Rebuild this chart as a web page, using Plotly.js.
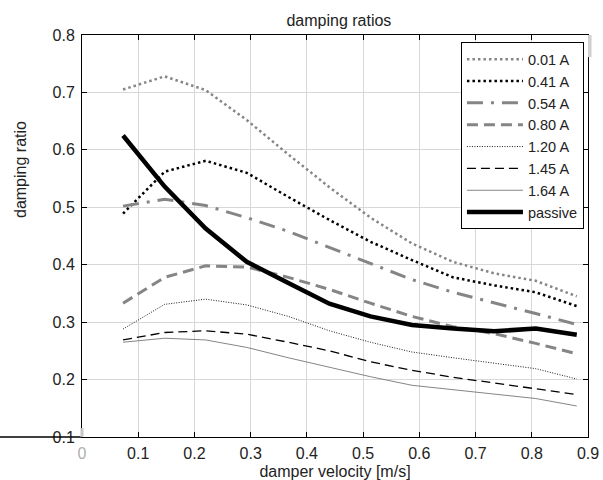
<!DOCTYPE html>
<html>
<head>
<meta charset="utf-8">
<script src="https://cdn.plot.ly/plotly-3.0.1.min.js"></script>
<style>html,body{margin:0;padding:0;background:#fff;}#chart{width:603px;height:480px;}</style>
</head>
<body>
<div id="chart"></div>
<script>
// damper velocity [m/s]
const velocity = [0.073, 0.147, 0.22, 0.293, 0.367, 0.44, 0.513, 0.587, 0.66, 0.733, 0.807, 0.88];
const seriesNames = ["0.01 A", "0.41 A", "0.54 A", "0.80 A", "1.20 A", "1.45 A", "1.64 A", "passive"];
const ratio001 = [0.705, 0.728, 0.704, 0.652, 0.592, 0.535, 0.482, 0.437, 0.405, 0.385, 0.372, 0.345];
const ratio041 = [0.489, 0.562, 0.581, 0.560, 0.518, 0.478, 0.440, 0.408, 0.378, 0.364, 0.352, 0.328];
const ratio054 = [0.502, 0.514, 0.503, 0.482, 0.458, 0.430, 0.402, 0.374, 0.352, 0.334, 0.315, 0.296];
const ratio080 = [0.333, 0.378, 0.398, 0.396, 0.378, 0.357, 0.333, 0.310, 0.292, 0.280, 0.263, 0.245];
const ratio120 = [0.288, 0.331, 0.340, 0.330, 0.310, 0.285, 0.265, 0.248, 0.238, 0.228, 0.219, 0.201];
const ratio145 = [0.269, 0.282, 0.285, 0.279, 0.265, 0.250, 0.231, 0.216, 0.204, 0.194, 0.183, 0.174];
const ratio164 = [0.265, 0.272, 0.269, 0.256, 0.238, 0.221, 0.205, 0.190, 0.182, 0.175, 0.167, 0.154];
const ratioPassive = [0.625, 0.536, 0.463, 0.405, 0.368, 0.332, 0.310, 0.295, 0.289, 0.284, 0.289, 0.278];
const xTicks = [0, 0.1, 0.2, 0.3, 0.4, 0.5, 0.6, 0.7, 0.8, 0.9];
const xTickText = ["<span style='color:#b0b0b0'>0</span>", "0.1", "0.2", "0.3", "0.4", "0.5", "0.6", "0.7", "0.8", "0.9"];
const yTicks = [0.1, 0.2, 0.3, 0.4, 0.5, 0.6, 0.7, 0.8];
const yTickText = ["0.1", "0.2", "0.3", "0.4", "0.5", "0.6", "0.7", "0.8"];

const allSeries = [ratio001, ratio041, ratio054, ratio080, ratio120, ratio145, ratio164, ratioPassive];
const styles = [
  {color: "#858585", width: 2.5, dash: "2.5px,3px"},
  {color: "#000000", width: 2.5, dash: "2.5px,3px"},
  {color: "#858585", width: 3, dash: "16px,8px,3px,8px"},
  {color: "#858585", width: 3, dash: "11px,6px"},
  {color: "#000000", width: 0.9, dash: "1px,1.5px"},
  {color: "#000000", width: 1.3, dash: "9px,5px"},
  {color: "#666666", width: 0.8, dash: "solid"},
  {color: "#000000", width: 4.5, dash: "solid"}
];

const traces = allSeries.map((ys, i) => ({
  x: velocity, y: ys, name: seriesNames[i], type: "scatter", mode: "lines",
  line: styles[i]
}));

const fam = "Liberation Sans, Arial, sans-serif";
const txt = {family: fam, size: 16, color: "#222"};
const layout = {
  width: 603, height: 480,
  margin: {l: 82, r: 15, t: 35, b: 43, pad: 0},
  paper_bgcolor: "#fff", plot_bgcolor: "#fff",
  font: txt,
  showlegend: true,
  title: {text: "damping ratios", x: 0.562, xanchor: "center", y: 0.957, yanchor: "middle", font: txt},
  xaxis: {
    range: [0, 0.9], tickvals: xTicks, ticktext: xTickText,
    showline: true, linecolor: "#000", linewidth: 1, mirror: "ticks",
    ticks: "inside", ticklen: 5, tickcolor: "#000",
    showgrid: true, gridcolor: "#d8d8d8", gridwidth: 1, zeroline: false,
    tickfont: txt, ticklabelstandoff: 2,
    title: {text: "damper velocity [m/s]", standoff: 4, font: txt}
  },
  yaxis: {
    range: [0.1, 0.8], tickvals: yTicks, ticktext: yTickText,
    showline: true, linecolor: "#000", linewidth: 1, mirror: "ticks",
    ticks: "inside", ticklen: 5, tickcolor: "#000",
    showgrid: true, gridcolor: "#d8d8d8", gridwidth: 1, zeroline: false,
    tickfont: txt, ticklabelstandoff: 3
  },
  annotations: [
    {text: "damping ratio", textangle: -90, xref: "paper", yref: "paper",
     x: -62/506, y: (437 - 170) / 402, xanchor: "center", yanchor: "middle",
     showarrow: false, font: txt}
  ],
  legend: {
    x: 0.992, y: 0.982, xanchor: "right", yanchor: "top",
    bgcolor: "#fff", bordercolor: "#000", borderwidth: 1,
    font: {family: fam, size: 14.5, color: "#222"}, itemwidth: 56, tracegroupgap: 0
  },
  shapes: [
    {type: "line", xref: "paper", yref: "paper", x0: -82/506, x1: 0, y0: 0, y1: 0, line: {color: "#000", width: 1.5}},
    {type: "rect", xref: "paper", yref: "paper", x0: 1.0, x1: 1.007, y0: 0.945, y1: 1.0, line: {width: 0}, fillcolor: "#d0d0d0"},
    {type: "rect", xref: "paper", yref: "paper", x0: -0.003, x1: 0.003, y0: 0.0, y1: 0.022, line: {width: 0}, fillcolor: "#c8c8c8"}
  ]
};

Plotly.newPlot("chart", traces, layout, {displayModeBar: false, staticPlot: true});
</script>
</body>
</html>
